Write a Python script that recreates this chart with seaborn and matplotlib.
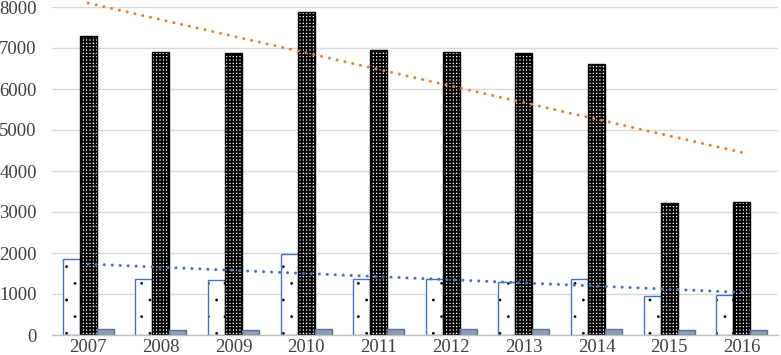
import matplotlib
matplotlib.use("Agg")
import matplotlib.pyplot as plt
import matplotlib.hatch as mhatch
import seaborn as sns
import pandas as pd
import numpy as np

# data
years = [2007, 2008, 2009, 2010, 2011, 2012, 2013, 2014, 2015, 2016]
series_a = [1850, 1360, 1350, 1970, 1360, 1370, 1300, 1360, 950, 980]
series_b = [7300, 6900, 6880, 7880, 6950, 6900, 6880, 6600, 3220, 3240]
series_c = [140, 115, 120, 140, 140, 140, 140, 140, 120, 120]
series_names = ["Series 1", "Series 2", "Series 3"]

df = pd.DataFrame({
    "Year": [str(y) for y in years] * 3,
    "Series": [series_names[0]] * 10 + [series_names[1]] * 10 + [series_names[2]] * 10,
    "Value": series_a + series_b + series_c,
})

# smaller dots for the '.' hatch
mhatch.SmallFilledCircles.size = 0.065

sns.set_style("white")
plt.rcParams["font.family"] = ["Liberation Serif", "DejaVu Serif"]

fig = plt.figure(figsize=(7.81, 3.55), dpi=100)
ax = fig.add_axes([52 / 781, 20 / 355, 726 / 781, 328 / 355])

sns.barplot(data=df, x="Year", y="Value", hue="Series", width=0.7, ax=ax,
            palette=["white", "white", "#8E9DB6"], saturation=1, legend=False)

# bar styles: (face, edge, hatch, hatch colour, hatch lw)
styles = [
    ("white", "#4472C4", ".", "black", 0.4),
    ("white", "black", "+++++", "black", 1.4),
    ("#8E9DB6", "#5E7090", None, None, None),
]
for cont, (fc, ec, hatch, hc, hlw) in zip(ax.containers, styles):
    for p in cont.patches:
        p.set_facecolor(fc)
        p.set_edgecolor(ec)
        p.set_linewidth(1.0)
        if hatch:
            p.set_hatch(hatch)
            p._hatch_color = matplotlib.colors.to_rgba(hc)
            if hasattr(p, "set_hatch_linewidth"):
                p.set_hatch_linewidth(hlw)
            else:
                p._hatch_linewidth = hlw

# linear trendlines
pos = np.arange(len(years))
for vals, col in [(series_b, "#ED7D31"), (series_a, "#4472C4")]:
    sns.regplot(x=pos, y=np.array(vals, float), scatter=False, ci=None, ax=ax,
                truncate=True,
                line_kws=dict(color=col, lw=2.2, linestyle=(0, (0.01, 2.6)),
                              dash_capstyle="round", zorder=5, clip_on=False))

ax.set_xlim(-0.5, 9.5)
ax.set_ylim(0, 8000)
ax.set_yticks(range(0, 8001, 1000))
ax.set_xticks(pos)
ax.set_xticklabels([str(y) for y in years])
ax.set_xticks(np.arange(-0.5, 10, 1), minor=True)
ax.set_xlabel("")
ax.set_ylabel("")

ax.yaxis.grid(True, color="#D9D9D9", lw=1)
ax.set_axisbelow(True)
for s in ["left", "right", "top"]:
    ax.spines[s].set_visible(False)
ax.spines["bottom"].set_color("#BFBFBF")
ax.spines["bottom"].set_linewidth(1)

ax.tick_params(axis="y", length=0, pad=11, labelsize=13.5, labelcolor="#404040")
ax.tick_params(axis="x", which="major", length=0, pad=3, labelsize=13.5, labelcolor="#404040")
ax.tick_params(axis="x", which="minor", length=15, width=1, color="#BFBFBF", direction="out")

fig.savefig("out.png", dpi=100)
